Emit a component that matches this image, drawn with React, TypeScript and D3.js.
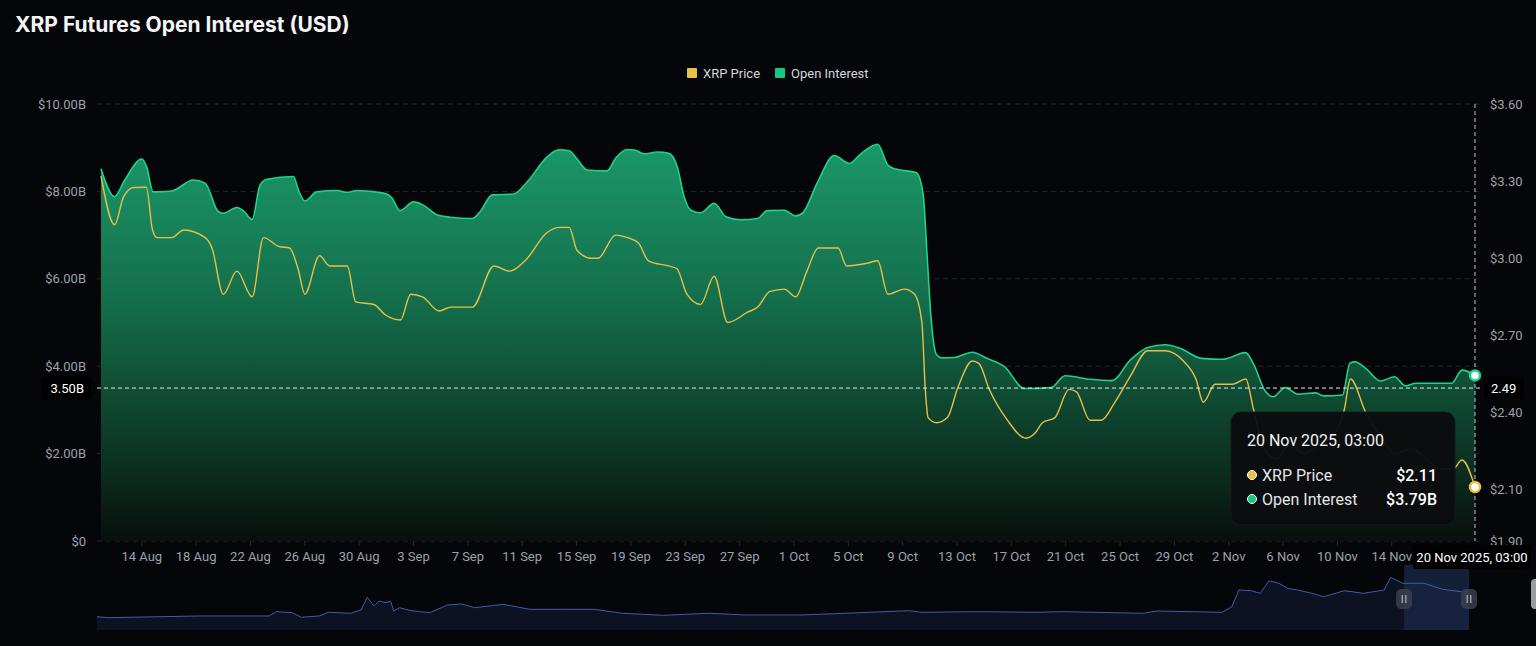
import React, { useEffect } from "react";
import * as d3 from "d3";

const TITLE = "XRP Futures Open Interest (USD)";
const SERIES_NAMES = ["XRP Price", "Open Interest"];

const oiSeries: [string, number][] = [
  ["2025-08-11 00", 8.52], ["2025-08-12 00", 7.88], ["2025-08-12 18", 8.26], ["2025-08-14 00", 8.74],
  ["2025-08-14 09", 8.55], ["2025-08-14 20", 7.99], ["2025-08-16 05", 8.01], ["2025-08-17 19", 8.26],
  ["2025-08-18 16", 8.19], ["2025-08-19 15", 7.54], ["2025-08-20 00", 7.5], ["2025-08-21 00", 7.63],
  ["2025-08-21 12", 7.55], ["2025-08-22 03", 7.36], ["2025-08-22 17", 8.15], ["2025-08-23 05", 8.28],
  ["2025-08-25 04", 8.34], ["2025-08-25 13", 8.02], ["2025-08-26 00", 7.78], ["2025-08-26 21", 7.99],
  ["2025-08-28 09", 8.02], ["2025-08-29 03", 7.98], ["2025-08-29 20", 8.02], ["2025-08-31 19", 7.96],
  ["2025-09-01 10", 7.85], ["2025-09-02 00", 7.56], ["2025-09-03 00", 7.76], ["2025-09-03 18", 7.68],
  ["2025-09-04 18", 7.46], ["2025-09-05 17", 7.41], ["2025-09-07 08", 7.38], ["2025-09-07 22", 7.54],
  ["2025-09-08 19", 7.92], ["2025-09-10 09", 7.94], ["2025-09-11 09", 8.22], ["2025-09-12 20", 8.79],
  ["2025-09-13 17", 8.95], ["2025-09-14 11", 8.93], ["2025-09-15 01", 8.74], ["2025-09-15 19", 8.49],
  ["2025-09-17 06", 8.47], ["2025-09-17 21", 8.76], ["2025-09-18 18", 8.96], ["2025-09-19 08", 8.94],
  ["2025-09-19 23", 8.86], ["2025-09-20 23", 8.9], ["2025-09-21 19", 8.87], ["2025-09-22 10", 8.56],
  ["2025-09-22 22", 7.88], ["2025-09-23 10", 7.57], ["2025-09-24 03", 7.51], ["2025-09-25 03", 7.73],
  ["2025-09-26 00", 7.42], ["2025-09-27 02", 7.35], ["2025-09-28 08", 7.38], ["2025-09-29 01", 7.56],
  ["2025-09-30 07", 7.57], ["2025-10-01 03", 7.44], ["2025-10-01 15", 7.5], ["2025-10-02 18", 8.22],
  ["2025-10-03 23", 8.82], ["2025-10-05 02", 8.64], ["2025-10-05 22", 8.86], ["2025-10-07 04", 9.08],
  ["2025-10-07 22", 8.6], ["2025-10-08 12", 8.51], ["2025-10-10 00", 8.43], ["2025-10-10 12", 7.96],
  ["2025-10-10 20", 6.36], ["2025-10-11 02", 5.13], ["2025-10-11 12", 4.26], ["2025-10-11 21", 4.19],
  ["2025-10-12 20", 4.2], ["2025-10-14 03", 4.32], ["2025-10-15 05", 4.18], ["2025-10-16 12", 3.99],
  ["2025-10-17 23", 3.49], ["2025-10-19 22", 3.51], ["2025-10-20 23", 3.78], ["2025-10-22 19", 3.7],
  ["2025-10-24 10", 3.67], ["2025-10-25 18", 4.14], ["2025-10-27 01", 4.43], ["2025-10-28 08", 4.49],
  ["2025-10-29 10", 4.41], ["2025-10-31 00", 4.18], ["2025-11-01 13", 4.16], ["2025-11-03 06", 4.31],
  ["2025-11-03 19", 4.07], ["2025-11-04 17", 3.42], ["2025-11-05 06", 3.3], ["2025-11-06 04", 3.51],
  ["2025-11-07 02", 3.36], ["2025-11-08 10", 3.39], ["2025-11-08 23", 3.32], ["2025-11-10 09", 3.34],
  ["2025-11-10 22", 4.07], ["2025-11-11 07", 4.1], ["2025-11-12 02", 3.95], ["2025-11-13 04", 3.66],
  ["2025-11-14 05", 3.76], ["2025-11-15 00", 3.55], ["2025-11-15 19", 3.61], ["2025-11-18 10", 3.61],
  ["2025-11-19 04", 3.91], ["2025-11-20 03", 3.79],
];

const priceSeries: [string, number][] = [
  ["2025-08-11 00", 3.32], ["2025-08-12 00", 3.13], ["2025-08-12 16", 3.24], ["2025-08-13 10", 3.275],
  ["2025-08-14 08", 3.276], ["2025-08-14 19", 3.11], ["2025-08-15 03", 3.08], ["2025-08-16 05", 3.08],
  ["2025-08-17 02", 3.11], ["2025-08-18 16", 3.08], ["2025-08-19 04", 3.04], ["2025-08-20 00", 2.86],
  ["2025-08-21 00", 2.95], ["2025-08-22 03", 2.85], ["2025-08-22 23", 3.08], ["2025-08-24 03", 3.045],
  ["2025-08-24 21", 3.04], ["2025-08-25 12", 2.96], ["2025-08-26 00", 2.86], ["2025-08-27 02", 3.01],
  ["2025-08-27 20", 2.97], ["2025-08-29 03", 2.97], ["2025-08-29 18", 2.83], ["2025-08-31 02", 2.82],
  ["2025-08-31 22", 2.78], ["2025-09-02 01", 2.76], ["2025-09-02 19", 2.86], ["2025-09-03 16", 2.85],
  ["2025-09-04 21", 2.795], ["2025-09-05 18", 2.81], ["2025-09-07 08", 2.81], ["2025-09-08 22", 2.97],
  ["2025-09-10 02", 2.95], ["2025-09-11 05", 2.99], ["2025-09-12 20", 3.1], ["2025-09-13 18", 3.12],
  ["2025-09-14 11", 3.12], ["2025-09-15 01", 3.03], ["2025-09-16 02", 3.0], ["2025-09-16 14", 3.0],
  ["2025-09-17 21", 3.09], ["2025-09-18 18", 3.08], ["2025-09-19 13", 3.06], ["2025-09-20 07", 2.99],
  ["2025-09-21 18", 2.97], ["2025-09-22 09", 2.96], ["2025-09-23 03", 2.86], ["2025-09-24 03", 2.82],
  ["2025-09-25 03", 2.93], ["2025-09-26 03", 2.75], ["2025-09-27 14", 2.79], ["2025-09-28 08", 2.81],
  ["2025-09-29 05", 2.87], ["2025-09-30 07", 2.88], ["2025-10-01 03", 2.85], ["2025-10-01 23", 2.95],
  ["2025-10-02 19", 3.04], ["2025-10-04 06", 3.04], ["2025-10-04 21", 2.97], ["2025-10-06 08", 2.98],
  ["2025-10-07 04", 2.99], ["2025-10-07 22", 2.86], ["2025-10-09 03", 2.88], ["2025-10-09 21", 2.86],
  ["2025-10-10 10", 2.75], ["2025-10-10 16", 2.49], ["2025-10-10 21", 2.38], ["2025-10-11 12", 2.36],
  ["2025-10-12 07", 2.38], ["2025-10-13 02", 2.5], ["2025-10-14 03", 2.6], ["2025-10-14 15", 2.59],
  ["2025-10-15 09", 2.49], ["2025-10-16 17", 2.37], ["2025-10-18 02", 2.3], ["2025-10-18 18", 2.32],
  ["2025-10-19 07", 2.36], ["2025-10-20 05", 2.38], ["2025-10-21 06", 2.49], ["2025-10-21 19", 2.48],
  ["2025-10-22 19", 2.37], ["2025-10-23 15", 2.37], ["2025-10-24 15", 2.44], ["2025-10-25 18", 2.54],
  ["2025-10-27 01", 2.64], ["2025-10-28 08", 2.64], ["2025-10-29 16", 2.6], ["2025-10-30 14", 2.53],
  ["2025-10-31 03", 2.44], ["2025-11-01 00", 2.51], ["2025-11-02 07", 2.51], ["2025-11-03 06", 2.53],
  ["2025-11-03 19", 2.42], ["2025-11-04 12", 2.27], ["2025-11-05 12", 2.22], ["2025-11-06 12", 2.28],
  ["2025-11-07 12", 2.24], ["2025-11-08 12", 2.27], ["2025-11-09 12", 2.3], ["2025-11-10 12", 2.41],
  ["2025-11-10 23", 2.53], ["2025-11-12 02", 2.4], ["2025-11-13 06", 2.3], ["2025-11-14 06", 2.24],
  ["2025-11-15 12", 2.26], ["2025-11-16 12", 2.22], ["2025-11-17 12", 2.18], ["2025-11-18 12", 2.18],
  ["2025-11-19 04", 2.215], ["2025-11-20 03", 2.11],
];

// data-zoom background shadow (relative level 0-100 of the full history)
const sliderSeries: [string, number][] = [
  ["2020-01-15", 24.2], ["2020-02-01", 22.4], ["2020-06-23", 25.5], ["2020-10-09", 25.5],
  ["2020-10-20", 33.3], ["2020-11-14", 31.5], ["2020-11-28", 23.1], ["2020-12-26", 25.5],
  ["2021-01-09", 32.2], ["2021-02-13", 30.4], ["2021-03-01", 36.4], ["2021-03-11", 59.5],
  ["2021-03-21", 43.6], ["2021-03-29", 52.7], ["2021-04-09", 49.6], ["2021-04-16", 52.7],
  ["2021-04-21", 34.5], ["2021-04-30", 40.5], ["2021-05-18", 35.1], ["2021-06-16", 31.5],
  ["2021-07-14", 45.5], ["2021-08-05", 47.3], ["2021-08-25", 40.5], ["2021-10-08", 46.7],
  ["2021-11-19", 37.6], ["2022-01-09", 37.6], ["2022-02-28", 37.6], ["2022-04-11", 30.4],
  ["2022-06-15", 26.7], ["2022-08-25", 30.4], ["2022-10-21", 27.3], ["2023-01-13", 27.3],
  ["2023-02-26", 29.1], ["2023-07-01", 35.1], ["2023-07-22", 32.2], ["2023-10-18", 33.3],
  ["2024-01-14", 32.2], ["2024-02-27", 33.3], ["2024-07-01", 30.4], ["2024-07-22", 34.5],
  ["2024-11-01", 32.2], ["2024-11-16", 42.4], ["2024-11-27", 72.7], ["2024-12-16", 71.5],
  ["2024-12-30", 66.7], ["2025-01-13", 89.6], ["2025-01-28", 84.9], ["2025-02-11", 75.8],
  ["2025-02-26", 72.7], ["2025-03-21", 66.7], ["2025-04-08", 60.5], ["2025-05-10", 71.5],
  ["2025-06-09", 66.7], ["2025-07-11", 72.7], ["2025-07-21", 95.8], ["2025-08-09", 84.9],
  ["2025-09-11", 84.9], ["2025-10-10", 74.0], ["2025-11-08", 69.6], ["2025-11-20", 69.6],
];

const xTickDates = [
  "2025-08-14", "2025-08-18", "2025-08-22", "2025-08-26", "2025-08-30", "2025-09-03", "2025-09-07",
  "2025-09-11", "2025-09-15", "2025-09-19", "2025-09-23", "2025-09-27", "2025-10-01", "2025-10-05",
  "2025-10-09", "2025-10-13", "2025-10-17", "2025-10-21", "2025-10-25", "2025-10-29", "2025-11-02",
  "2025-11-06", "2025-11-10", "2025-11-14",
];
const leftTicks = [0, 2, 4, 6, 8, 10];
const leftTickLabels = ["$0", "$2.00B", "$4.00B", "$6.00B", "$8.00B", "$10.00B"];
const rightTicks = [1.9, 2.1, 2.4, 2.7, 3.0, 3.3, 3.6];
const rightTickLabels = ["$1.90", "$2.10", "$2.40", "$2.70", "$3.00", "$3.30", "$3.60"];

const X_START = "2025-08-11 00";
const X_END = "2025-11-20 03";
const SLIDER_START = "2020-01-15";
const CROSS_OI = 3.5;
const CROSS_PRICE_LABEL = "2.49";

const BG = "#050609";
const GREEN = "#1fd18c";
const YELLOW = "#e8bf47";
const AXIS_TXT = "#9ca1a9";
const GRID = "#24272d";
const FONT = "Roboto, 'Noto Sans', sans-serif";

export default function App() {
  useEffect(() => {
    document.body.style.margin = "0";
    document.body.style.background = BG;
  }, []);

  const W = 1536, H = 646;
  const parseH = d3.timeParse("%Y-%m-%d %H");
  const parseD = d3.timeParse("%Y-%m-%d");

  const x = d3.scaleTime().domain([parseH(X_START)!, parseH(X_END)!]).range([101, 1475]);
  const yL = d3.scaleLinear().domain([0, 10]).range([541, 104]);
  const yR = d3.scaleLinear().domain([1.9, 3.6]).range([541, 104]);

  const oi = oiSeries.map(([t, v]) => ({ t: parseH(t)!, v }));
  const price = priceSeries.map(([t, v]) => ({ t: parseH(t)!, v }));

  const area = d3.area<{ t: Date; v: number }>()
    .x((d) => x(d.t)).y0(yL(0)).y1((d) => yL(d.v)).curve(d3.curveMonotoneX);
  const oiLine = d3.line<{ t: Date; v: number }>()
    .x((d) => x(d.t)).y((d) => yL(d.v)).curve(d3.curveMonotoneX);
  const priceLine = d3.line<{ t: Date; v: number }>()
    .x((d) => x(d.t)).y((d) => yR(d.v)).curve(d3.curveMonotoneX);

  const sx = d3.scaleTime().domain([parseD(SLIDER_START)!, parseH(X_END)!]).range([97, 1469]);
  const sy = d3.scaleLinear().domain([0, 100]).range([630, 575]);
  const sData = sliderSeries.map(([t, v]) => ({ t: parseD(t)!, v }));
  const sArea = d3.area<{ t: Date; v: number }>().x((d) => sx(d.t)).y0(630).y1((d) => sy(d.v));
  const sLine = d3.line<{ t: Date; v: number }>().x((d) => sx(d.t)).y((d) => sy(d.v));

  const lastOi = oi[oi.length - 1];
  const lastPrice = price[price.length - 1];
  const fmtTip = d3.timeFormat("%-d %b %Y, %H:%M");
  const fmtTick = d3.timeFormat("%-d %b");
  const crossX = x(lastOi.t);
  const crossY = yL(CROSS_OI);
  const winX0 = sx(x.domain()[0]);
  const winX1 = sx(x.domain()[1]);

  const handle = (cx: number) => (
    <g>
      <rect x={cx - 8} y={589} width={16} height={20} rx={5} fill="#3a3f4b" opacity={0.85} />
      <line x1={cx - 1.8} x2={cx - 1.8} y1={595} y2={603} stroke="#c9ccd2" strokeWidth={1} />
      <line x1={cx + 1.8} x2={cx + 1.8} y1={595} y2={603} stroke="#c9ccd2" strokeWidth={1} />
    </g>
  );

  return (
    <svg width={W} height={H} style={{ display: "block", background: BG }} fontFamily={FONT}>
      <defs>
        <linearGradient id="oiGrad" gradientUnits="userSpaceOnUse" x1="0" x2="0" y1={140} y2={541}>
          <stop offset="0" stopColor="rgb(27,153,106)" />
          <stop offset="0.4" stopColor="rgb(20,110,75)" />
          <stop offset="0.75" stopColor="rgb(13,58,40)" />
          <stop offset="1" stopColor="rgb(8,15,12)" />
        </linearGradient>
      </defs>

      <text x={15} y={32} fill="#f4f5f7" fontSize={21} fontWeight={700} fontFamily="Inter, 'Noto Sans', sans-serif">
        {TITLE}
      </text>

      {/* legend */}
      <rect x={687} y={68} width={10} height={10} rx={1} fill={YELLOW} />
      <text x={703} y={77.5} fill="#d3d6db" fontSize={13}>{SERIES_NAMES[0]}</text>
      <rect x={775} y={68} width={10} height={10} rx={1} fill="#17c784" />
      <text x={791} y={77.5} fill="#d3d6db" fontSize={13}>{SERIES_NAMES[1]}</text>

      {/* grid */}
      {leftTicks.map((t) => (
        <line key={"g" + t} x1={97} x2={1481} y1={yL(t)} y2={yL(t)} stroke={GRID} strokeDasharray="5,4" />
      ))}
      {leftTicks.map((t, i) => (
        <text key={"l" + t} x={86} y={yL(t) + 4.5} fill={AXIS_TXT} fontSize={13} textAnchor="end">
          {leftTickLabels[i]}
        </text>
      ))}
      {rightTicks.map((t, i) => (
        <text key={"r" + t} x={1490} y={yR(t) + 4.5} fill={AXIS_TXT} fontSize={13}>
          {rightTickLabels[i]}
        </text>
      ))}

      {/* series */}
      <path d={area(oi)!} fill="url(#oiGrad)" />
      <path d={oiLine(oi)!} fill="none" stroke={GREEN} strokeWidth={1.6} />
      <path d={priceLine(price)!} fill="none" stroke={YELLOW} strokeWidth={1.4} />

      {/* x axis */}
      {xTickDates.map((s) => {
        const d = parseD(s)!;
        return (
          <g key={s}>
            <line x1={x(d)} x2={x(d)} y1={541} y2={546} stroke={GRID} />
            <text x={x(d)} y={561} fill={AXIS_TXT} fontSize={13} textAnchor="middle">{fmtTick(d)}</text>
          </g>
        );
      })}

      {/* crosshair */}
      <line x1={crossX} x2={crossX} y1={104} y2={541} stroke="#bfc2c8" strokeDasharray="4,3" strokeWidth={1} />
      <line x1={97} x2={1481} y1={crossY} y2={crossY} stroke="#e6e7ea" strokeDasharray="4,3" strokeWidth={1} />
      <rect x={42} y={crossY - 11} width={49} height={22} rx={3} fill="#000" />
      <text x={84} y={crossY + 4.5} fill="#fff" fontSize={13} textAnchor="end">{CROSS_OI.toFixed(2) + "B"}</text>
      <rect x={1484} y={crossY - 11} width={40} height={22} rx={3} fill="#000" />
      <text x={1491} y={crossY + 4.5} fill="#fff" fontSize={13}>{CROSS_PRICE_LABEL}</text>

      <circle cx={crossX} cy={yL(lastOi.v)} r={5} fill="#fff" stroke={GREEN} strokeWidth={2.5} />
      <circle cx={crossX} cy={yR(lastPrice.v)} r={5} fill="#fff" stroke={YELLOW} strokeWidth={2.5} />

      {/* tooltip */}
      <rect x={1231} y={412} width={224} height={113} rx={10} fill="#0b0c0f" fillOpacity={0.96} stroke="#16181c" />
      <text x={1247} y={446} fill="#f2f3f5" fontSize={16}>{fmtTip(lastOi.t)}</text>
      <circle cx={1252} cy={475} r={4.5} fill={YELLOW} stroke="#fff" strokeWidth={1} />
      <text x={1262} y={480.5} fill="#e4e6ea" fontSize={16}>{SERIES_NAMES[0]}</text>
      <text x={1437} y={480.5} fill="#fff" fontSize={16} fontWeight={500} textAnchor="end">
        {"$" + lastPrice.v.toFixed(2)}
      </text>
      <circle cx={1252} cy={499} r={4.5} fill="#17c784" stroke="#fff" strokeWidth={1} />
      <text x={1262} y={504.5} fill="#e4e6ea" fontSize={16}>{SERIES_NAMES[1]}</text>
      <text x={1437} y={504.5} fill="#fff" fontSize={16} fontWeight={500} textAnchor="end">
        {"$" + lastOi.v.toFixed(2) + "B"}
      </text>

      {/* data zoom */}
      <path d={sArea(sData)!} fill="#0c1222" />
      <rect x={winX0} y={565} width={winX1 - winX0} height={65} fill="#1a2848" fillOpacity={0.75} />
      <path d={sLine(sData)!} fill="none" stroke="#3b5ea8" strokeWidth={1} />
      {handle(winX0)}
      {handle(winX1)}
      <rect x={1531} y={579} width={12} height={30} rx={4} fill="#9a9ca2" />

      {/* x crosshair label */}
      <rect x={1413} y={545} width={118} height={24} rx={3} fill="#000" />
      <text x={1472} y={561.5} fill="#fff" fontSize={13} textAnchor="middle">{fmtTip(lastOi.t)}</text>
    </svg>
  );
}
